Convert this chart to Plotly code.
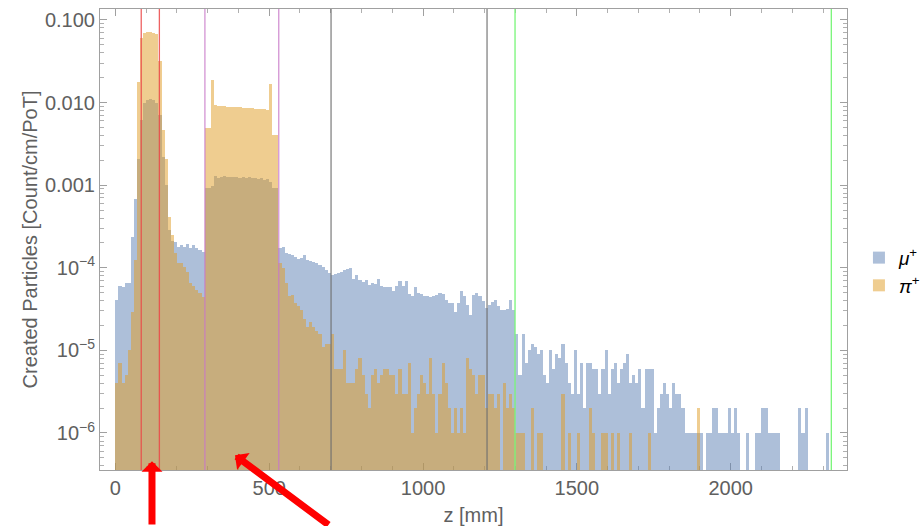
import plotly.graph_objects as go

# Histogram of created particles along z, 10 mm bins starting at z = 0.
# Bin contents in units of 1e-6 Count/cm/PoT.
bin_width_mm = 10

mu_plus_e6 = [
    41, 60, 58, 65, 65, 236, 680, 2080, 6150, 9900,
    10750, 11000, 10700, 9900, 7100, 2200, 1000, 290, 210, 208,
    180, 188, 180, 195, 175, 188, 174, 165, 157, 920,
    920, 970, 1290, 1230, 1260, 1290, 1250, 1260, 1240, 1260,
    1230, 1250, 1210, 1250, 1210, 1230, 1190, 1220, 1150, 1190,
    1080, 920, 920, 174, 180, 152, 146, 143, 136, 127,
    130, 143, 124, 122, 118, 115, 108, 103, 94, 87,
    82, 84, 87, 89, 94, 96, 99, 74, 82, 71,
    68, 72, 62, 66, 64, 74, 60, 58, 58, 58,
    53, 60, 70, 60, 70, 48, 45, 59, 50, 48,
    46, 45, 44, 45, 47, 49, 48, 41, 37, 38,
    29, 37, 52, 45, 35, 27, 47, 49, 45, 40,
    33, 35, 39, 41, 34, 31, 31, 32, 41, 31,
    16, 5, 16, 7, 10, 12, 11, 9, 10, 5,
    4, 10, 6, 9, 8, 12, 7, 4, 3, 10,
    3, 7, 2, 7, 7, 6, 6, 3, 6, 10,
    3, 6, 7, 4, 6, 7, 9, 4, 5, 4,
    6, 2, 6, 6, 6, 1, 2, 3, 4, 3,
    2, 4, 3, 3, 2, 1, 1, 1, 1, 1,
    1, 0, 1, 1, 2, 2, 1, 1, 1, 2,
    1, 2, 1, 0, 0, 1, 0, 0, 1, 1,
    2, 2, 1, 1, 1, 1, 0, 0, 0, 0,
    0, 0, 2, 1, 2, 0, 0, 0, 0, 0,
    0, 1,
]

pi_plus_e6 = [
    4, 7, 4, 5, 10, 29, 124, 17700, 60500, 69600,
    71600, 71600, 69600, 67700, 31900, 4660, 2100, 412, 250, 150,
    114, 114, 103, 90, 66, 61, 54, 49, 44, 4890,
    4890, 18800, 9350, 9170, 9100, 9100, 8920, 8920, 8900, 8760,
    8760, 8700, 8600, 8550, 8550, 8430, 8400, 8350, 8280, 8130,
    16600, 4050, 4050, 114, 100, 66, 45, 47, 37, 34,
    31, 24, 19, 22, 19, 17, 16, 11, 12, 12,
    16, 6, 6, 6, 10, 4, 4, 4, 6, 8,
    5, 3, 2, 5, 6, 4, 5, 6, 6, 5,
    5, 3, 6, 3, 3, 7, 1, 2, 3, 5,
    4, 3, 8, 3, 1, 3, 7, 4, 2, 1,
    2, 1, 2, 1, 8, 6, 5, 3, 5, 5,
    2, 3, 3, 2, 3, 0, 4, 2, 3, 2,
    1, 1, 1, 0, 0, 2, 0, 1, 1, 0,
    0, 0, 0, 0, 0, 3, 0, 1, 0, 0,
    1, 0, 0, 0, 2, 1, 0, 0, 1, 1,
    0, 1, 0, 1, 0, 0, 0, 1, 0, 0,
    0, 0, 0, 1, 0, 0, 0, 0, 0, 0,
    0, 0, 0, 0, 0, 0, 0, 0, 0, 2,
    0, 0, 0, 0, 0, 0, 0, 0, 0, 0,
    0, 0, 0, 0, 0, 0, 0, 0, 0, 0,
    0, 0, 0, 0, 0, 0, 0, 0, 0, 0,
    0, 0, 0, 0, 0, 0, 0, 0, 0, 0,
    0, 0,
]

# Region boundaries along z [mm]
red_lines = [84, 143]
magenta_lines = [291, 531]
gray_lines = [701, 1208]
green_lines = [1299, 2327]

x_ticks = [0, 500, 1000, 1500, 2000]
y_ticks = [0.1, 0.01, 0.001, 1e-4, 1e-5, 1e-6]
y_tick_text = ["0.100", "0.010", "0.001", "10<sup>\u22124</sup>", "10<sup>\u22125</sup>", "10<sup>\u22126</sup>"]

centers = [bin_width_mm * k + bin_width_mm / 2 for k in range(len(mu_plus_e6))]


def scaled(vals):
    return [v * 1e-6 if v > 0 else None for v in vals]


fig = go.Figure()
fig.add_trace(go.Bar(
    x=centers, y=scaled(mu_plus_e6), width=bin_width_mm,
    name="<i>\u03bc</i><sup>+</sup>",
    marker=dict(color="rgb(94,129,181)", line=dict(width=0)),
    opacity=0.5,
))
fig.add_trace(go.Bar(
    x=centers, y=scaled(pi_plus_e6), width=bin_width_mm,
    name="<i>\u03c0</i><sup>+</sup>",
    marker=dict(color="rgb(225,156,36)", line=dict(width=0)),
    opacity=0.5,
))

line_sets = [
    (red_lines, "rgba(235,70,70,0.85)"),
    (magenta_lines, "rgba(200,120,200,0.8)"),
    (gray_lines, "rgba(110,110,110,0.85)"),
    (green_lines, "rgb(120,245,120)"),
]
for zs, col in line_sets:
    for z in zs:
        fig.add_shape(type="line", xref="x", yref="paper", x0=z, x1=z, y0=0, y1=1,
                      line=dict(color=col, width=1.3), layer="above")

# Red pointer arrows below the plot
fig.add_annotation(xref="paper", yref="paper", x=0.0696, y=0.019, ax=0, ay=80,
                   text="", showarrow=True, arrowhead=1, arrowwidth=7, arrowsize=0.5,
                   arrowcolor="rgb(255,0,0)", standoff=0)
fig.add_annotation(xref="paper", yref="paper", x=0.1807, y=0.032, ax=95, ay=78,
                   text="", showarrow=True, arrowhead=1, arrowwidth=7, arrowsize=0.5,
                   arrowcolor="rgb(255,0,0)", standoff=0)

minor_log = [m * 10.0 ** d for d in range(-7, 0) for m in range(2, 10)]

axis_font = dict(family="Liberation Sans, Arial, sans-serif", size=20, color="#606060")

fig.update_layout(
    width=924, height=526,
    margin=dict(l=100, r=77, t=9, b=56, autoexpand=False),
    paper_bgcolor="white", plot_bgcolor="white",
    barmode="overlay", bargap=0,
    font=axis_font,
    legend=dict(x=1.016, xanchor="left", y=0.43, yanchor="middle",
                font=dict(family="Liberation Sans, Arial, sans-serif", size=19, color="black"),
                bgcolor="rgba(0,0,0,0)"),
    xaxis=dict(
        range=[-50, 2378], showgrid=False, zeroline=False,
        showline=True, linecolor="#a0a0a0", linewidth=1, mirror="ticks",
        ticks="inside", ticklen=7, tickcolor="#a0a0a0",
        tickmode="array", tickvals=x_ticks,
        minor=dict(ticks="inside", ticklen=4, tickcolor="#b0b0b0", dtick=100, showgrid=False),
        title=dict(text="z [mm]", font=axis_font, standoff=10),
        tickfont=axis_font, layer="below traces",
    ),
    yaxis=dict(
        type="log", range=[-6.448, -0.867], showgrid=False, zeroline=False,
        showline=True, linecolor="#a0a0a0", linewidth=1, mirror="ticks",
        ticks="inside", ticklen=7, tickcolor="#a0a0a0",
        tickmode="array", tickvals=y_ticks, ticktext=y_tick_text,
        minor=dict(ticks="inside", ticklen=4, tickcolor="#b0b0b0",
                   tickmode="array", tickvals=minor_log, showgrid=False),
        title=dict(text="Created Particles [Count/cm/PoT]", font=axis_font, standoff=1),
        tickfont=axis_font, layer="below traces",
    ),
)

fig.write_html("out.html")
